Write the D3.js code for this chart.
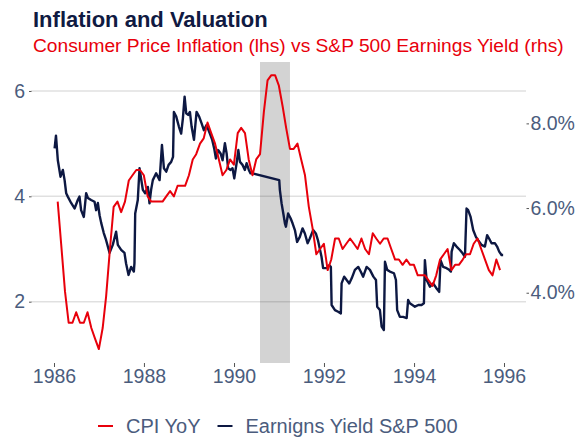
<!DOCTYPE html>
<html>
<head>
<meta charset="utf-8">
<script src="https://cdn.jsdelivr.net/npm/d3@7"></script>
<style>
body { margin: 0; background: #fff; }
svg { font-family: "Liberation Sans", Arial, sans-serif; }
</style>
</head>
<body>
<div id="chart"></div>
<script>
// CPI YoY, monthly from Jan 1986 (lhs)
var cpiStart = "1986-01";
var cpiValues = [
    3.9, 3.1, 2.2, 1.6, 1.6, 1.8, 1.6, 1.6, 1.8, 1.5, 1.3, 1.1,
    1.5, 2.1, 3.0, 3.8, 3.9, 3.7, 3.9, 4.3, 4.4, 4.5, 4.5, 4.4,
    4.0, 3.9, 3.9, 3.9, 3.9, 4.0, 4.1, 4.0, 4.2, 4.2, 4.2, 4.4,
    4.7, 4.8, 5.0, 5.1, 5.4, 5.2, 5.0, 4.7, 4.4, 4.5, 4.7, 4.6,
    5.2, 5.3, 5.2, 4.7, 4.4, 4.7, 4.8, 5.6, 6.2, 6.3, 6.3, 6.1,
    5.7, 5.3, 4.9, 4.9, 5.0, 4.7, 4.4, 3.8, 3.4, 2.9, 3.0, 3.1,
    2.6, 2.8, 3.2, 3.2, 3.0, 3.1, 3.2, 3.1, 3.0, 3.2, 3.0, 2.9,
    3.3, 3.2, 3.1, 3.2, 3.2, 3.0, 2.8, 2.8, 2.7, 2.8, 2.7, 2.7,
    2.5, 2.5, 2.5, 2.4, 2.3, 2.5, 2.8, 2.9, 3.0, 2.6, 2.7, 2.7,
    2.8, 2.9, 2.9, 3.1, 3.2, 3.0, 2.8, 2.6, 2.5, 2.8, 2.6
];

// S&P 500 earnings yield (rhs)
var yieldDates = [
    "1986-01-06", "1986-01-17", "1986-02-01", "1986-02-23", "1986-03-14", "1986-03-28", "1986-04-10", "1986-04-23",
    "1986-05-20", "1986-06-17", "1986-07-13", "1986-07-27", "1986-08-09", "1986-08-31", "1986-09-19", "1986-10-03",
    "1986-10-29", "1986-11-26", "1986-12-09", "1986-12-23", "1987-01-06", "1987-01-19", "1987-02-09", "1987-02-28",
    "1987-03-28", "1987-04-23", "1987-05-20", "1987-06-03", "1987-06-30", "1987-07-27", "1987-08-09", "1987-08-29",
    "1987-09-19", "1987-10-11", "1987-10-16", "1987-10-22", "1987-11-12", "1987-11-26", "1987-12-23", "1988-01-11",
    "1988-02-02", "1988-02-15", "1988-02-28", "1988-03-13", "1988-04-09", "1988-05-07", "1988-05-26", "1988-06-11",
    "1988-06-30", "1988-07-19", "1988-08-09", "1988-08-24", "1988-08-31", "1988-09-19", "1988-10-11", "1988-10-29",
    "1988-11-12", "1988-11-26", "1988-12-09", "1988-12-25", "1989-01-08", "1989-01-22", "1989-02-10", "1989-03-03",
    "1989-03-24", "1989-04-13", "1989-05-01", "1989-05-23", "1989-06-19", "1989-07-08", "1989-07-24", "1989-08-07",
    "1989-08-25", "1989-09-14", "1989-09-30", "1989-10-19", "1989-11-02", "1989-11-14", "1989-12-04", "1989-12-20",
    "1990-01-03", "1990-01-22", "1990-02-05", "1990-02-18", "1990-03-11", "1990-03-30", "1990-04-13", "1990-05-01",
    "1990-05-15", "1990-06-01", "1991-01-03", "1991-01-08", "1991-01-22", "1991-02-05", "1991-02-18", "1991-02-26",
    "1991-03-16", "1991-04-05", "1991-04-21", "1991-05-10", "1991-05-28", "1991-06-19", "1991-07-11", "1991-07-30",
    "1991-08-21", "1991-09-08", "1991-10-05", "1991-10-27", "1991-11-14", "1991-12-12", "1991-12-25", "1992-01-22",
    "1992-02-12", "1992-02-26", "1992-03-03", "1992-03-30", "1992-04-25", "1992-05-17", "1992-05-23", "1992-06-13",
    "1992-07-03", "1992-07-24", "1992-08-13", "1992-09-08", "1992-10-05", "1992-10-25", "1992-11-14", "1992-12-12",
    "1993-01-08", "1993-02-05", "1993-02-26", "1993-03-08", "1993-03-30", "1993-04-13", "1993-05-01", "1993-05-10",
    "1993-05-28", "1993-06-19", "1993-07-22", "1993-08-07", "1993-08-17", "1993-09-08", "1993-10-05", "1993-11-02",
    "1993-11-14", "1993-11-28", "1994-01-08", "1994-02-05", "1994-03-03", "1994-03-22", "1994-03-30", "1994-04-13",
    "1994-05-10", "1994-06-05", "1994-07-03", "1994-07-24", "1994-08-04", "1994-08-25", "1994-09-22", "1994-10-13",
    "1994-10-27", "1994-11-02", "1994-11-20", "1994-12-12", "1995-01-08", "1995-01-30", "1995-02-18", "1995-03-03",
    "1995-03-16", "1995-04-05", "1995-04-26", "1995-05-18", "1995-06-05", "1995-07-03", "1995-07-30", "1995-08-17",
    "1995-09-02", "1995-09-22", "1995-10-19", "1995-11-06", "1995-11-23", "1995-12-12", "1995-12-25"
];
var yieldValues = [
    7.41, 7.71, 7.13, 6.74, 6.90, 6.66, 6.35, 6.27,
    6.12, 5.99, 6.19, 6.27, 5.95, 5.79, 6.35, 6.24,
    6.19, 6.15, 5.95, 6.12, 5.83, 5.65, 5.41, 5.24,
    4.94, 5.13, 5.44, 5.13, 5.01, 4.94, 4.69, 4.42,
    4.61, 4.50, 4.70, 5.87, 6.19, 6.94, 6.43, 6.35,
    6.50, 6.11, 6.43, 6.66, 6.82, 6.66, 7.49, 6.94,
    6.86, 7.02, 7.09, 7.21, 8.27, 8.16, 7.92, 7.76,
    8.12, 8.63, 8.24, 8.20, 8.27, 7.92, 7.61, 8.27,
    8.16, 8.00, 7.84, 7.96, 7.76, 7.61, 7.41, 7.17,
    7.37, 7.29, 7.13, 7.53, 7.29, 6.94, 6.90, 6.94,
    6.70, 7.06, 7.37, 7.09, 7.02, 6.90, 7.06, 6.90,
    6.82, 6.82, 6.66, 6.43, 6.11, 5.87, 5.64, 5.56,
    5.87, 5.76, 5.64, 5.48, 5.20, 5.32, 5.52, 5.40,
    5.17, 5.28, 5.48, 5.40, 5.23, 4.85, 4.58, 4.58,
    4.65, 4.61, 3.71, 3.59, 3.55, 3.51, 4.22, 4.38,
    4.30, 4.22, 4.34, 4.54, 4.61, 4.50, 4.38, 4.61,
    4.54, 4.38, 4.30, 3.67, 3.59, 3.20, 3.12, 4.73,
    4.54, 4.50, 4.46, 4.30, 3.59, 3.43, 3.43, 3.40,
    3.83, 3.75, 3.67, 3.71, 3.71, 3.75, 4.77, 4.30,
    4.14, 4.22, 4.10, 4.02, 4.77, 4.61, 4.58, 4.54,
    4.50, 4.97, 5.17, 5.09, 5.01, 4.93, 4.85, 5.99,
    5.95, 5.79, 5.48, 5.32, 5.24, 5.13, 5.09, 5.36,
    5.28, 5.17, 5.17, 5.09, 4.97, 4.89, 4.89
];

var recession = ["1990-07-31", "1991-03-31"];
var xTickYears = ["1986", "1988", "1990", "1992", "1994", "1996"];
var leftTicks = [2, 4, 6];
var rightTicks = [4, 6, 8];
var legendNames = ["CPI YoY", "Earnigns Yield S&P 500"];

var width = 586, height = 438;
var red = "#e8000b", navy = "#0d1842", tickColor = "#4b5c7d";
var plotLeft = 31, plotRight = 526, plotTop = 62, plotBottom = 363;

var parseDay = d3.timeParse("%Y-%m-%d");
var parseMonth = d3.timeParse("%Y-%m");
var parseYear = d3.timeParse("%Y");

// monthly points sit at month end
var first = parseMonth(cpiStart);
var cpi = cpiValues.map(function(v, i) {
    return { date: d3.timeDay.offset(d3.timeMonth.offset(first, i + 1), -1), value: v };
});
var ey = yieldDates.map(function(d, i) {
    return { date: parseDay(d), value: yieldValues[i] };
});

var svg = d3.select("#chart").append("svg")
    .attr("width", width)
    .attr("height", height);

var x = d3.scaleTime()
    .domain([parseYear("1986"), parseYear("1996")])
    .range([54, 504]);
var yLeft = d3.scaleLinear().domain([0.836, 6.55]).range([plotBottom, plotTop]);
var yRight = d3.scaleLinear().domain([2.34, 9.45]).range([plotBottom, plotTop]);

// recession band
svg.append("rect")
    .attr("x", x(parseDay(recession[0])))
    .attr("y", plotTop)
    .attr("width", x(parseDay(recession[1])) - x(parseDay(recession[0])))
    .attr("height", plotBottom - plotTop)
    .attr("fill", "#d3d3d3");

// gridlines (lhs only)
svg.append("g").selectAll("line")
    .data(leftTicks)
    .enter().append("line")
    .attr("x1", plotLeft)
    .attr("x2", plotRight)
    .attr("y1", function(d) { return yLeft(d); })
    .attr("y2", function(d) { return yLeft(d); })
    .attr("stroke", "rgba(0,0,0,0.12)")
    .attr("stroke-width", 1.5);

function styleAxis(g) {
    g.select(".domain").remove();
    g.selectAll(".tick line").attr("stroke", "#555").attr("stroke-width", 1);
    g.selectAll(".tick text")
        .attr("fill", tickColor)
        .style("font-size", "19.5px")
        .style("font-family", "'Liberation Sans', Arial, sans-serif");
}

svg.append("g")
    .attr("transform", "translate(0," + plotBottom + ")")
    .call(d3.axisBottom(x)
        .tickValues(xTickYears.map(function(d) { return parseYear(d); }))
        .tickFormat(d3.timeFormat("%Y"))
        .tickSize(4)
        .tickPadding(2))
    .call(styleAxis);

svg.append("g")
    .attr("transform", "translate(" + (plotLeft + 0.5) + ",0)")
    .call(d3.axisLeft(yLeft)
        .tickValues(leftTicks)
        .tickFormat(d3.format("d"))
        .tickSize(2.5)
        .tickPadding(4))
    .call(styleAxis);

svg.append("g")
    .attr("transform", "translate(" + (plotRight + 0.5) + ",0)")
    .call(d3.axisRight(yRight)
        .tickValues(rightTicks)
        .tickFormat(function(d) { return d.toFixed(1) + "%"; })
        .tickSize(2.5)
        .tickPadding(1.5))
    .call(styleAxis);

// lines
var eyLine = d3.line()
    .x(function(d) { return x(d.date); })
    .y(function(d) { return yRight(d.value); });
var cpiLine = d3.line()
    .x(function(d) { return x(d.date); })
    .y(function(d) { return yLeft(d.value); });

svg.append("path")
    .datum(ey)
    .attr("d", eyLine)
    .attr("fill", "none")
    .attr("stroke", navy)
    .attr("stroke-width", 2.4)
    .attr("stroke-linejoin", "round");

svg.append("path")
    .datum(cpi)
    .attr("d", cpiLine)
    .attr("fill", "none")
    .attr("stroke", red)
    .attr("stroke-width", 2)
    .attr("stroke-linejoin", "round");

// titles
svg.append("text")
    .attr("x", 33)
    .attr("y", 27)
    .attr("fill", "#101a42")
    .style("font-size", "22px")
    .style("font-weight", "bold")
    .text("Inflation and Valuation");

svg.append("text")
    .attr("x", 33)
    .attr("y", 52)
    .attr("fill", red)
    .style("font-size", "19.2px")
    .text("Consumer Price Inflation (lhs) vs S&P 500 Earnings Yield (rhs)");

// legend
var legendX = [98, 217.5];
var legendColors = [red, navy];
var legend = svg.append("g").selectAll("g")
    .data(legendNames)
    .enter().append("g")
    .attr("transform", function(d, i) { return "translate(" + legendX[i] + ",426)"; });
legend.append("line")
    .attr("x1", 0).attr("x2", 15)
    .attr("stroke", function(d, i) { return legendColors[i]; })
    .attr("stroke-width", 2);
legend.append("text")
    .attr("x", 28)
    .attr("y", 7)
    .attr("fill", tickColor)
    .style("font-size", "20px")
    .text(function(d) { return d; });
</script>
</body>
</html>
